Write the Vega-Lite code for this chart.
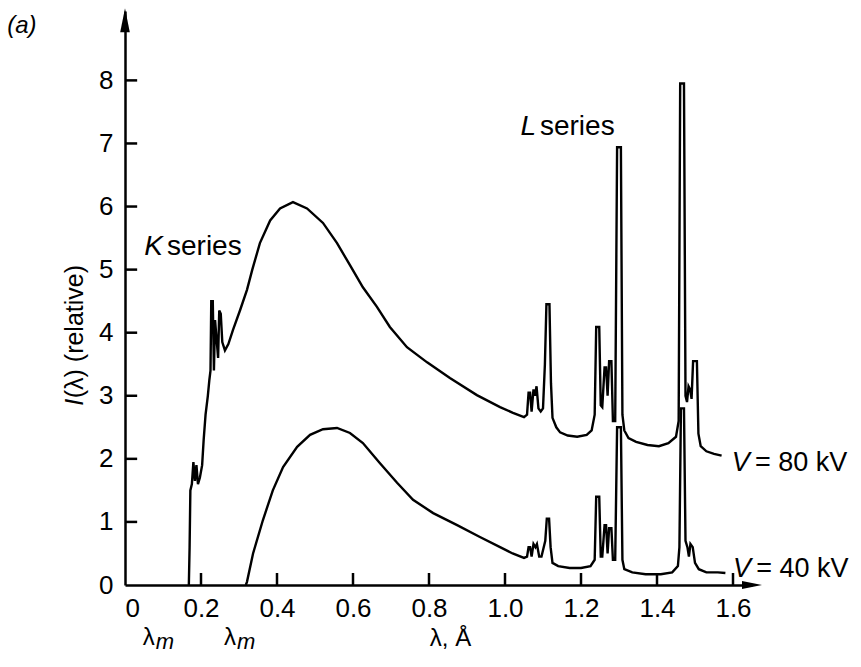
{
  "$schema": "https://vega.github.io/schema/vega-lite/v6.json",
  "width": 627,
  "height": 574,
  "autosize": {"type": "none"},
  "padding": {"left": 125, "top": 11, "right": 109, "bottom": 82},
  "background": "white",
  "config": {"view": {"stroke": null}, "font": "Liberation Sans", "text": {"font": "Liberation Sans", "color": "black"}},
  "datasets": {
    "kv80": [
      {"lam": 0.168, "I": 0}, {"lam": 0.170, "I": 0.6}, {"lam": 0.172, "I": 1.5}, {"lam": 0.176, "I": 1.6},
      {"lam": 0.180, "I": 1.95}, {"lam": 0.184, "I": 1.65}, {"lam": 0.188, "I": 1.9}, {"lam": 0.192, "I": 1.6},
      {"lam": 0.197, "I": 1.7}, {"lam": 0.203, "I": 1.9}, {"lam": 0.207, "I": 2.3}, {"lam": 0.212, "I": 2.7},
      {"lam": 0.218, "I": 3.0}, {"lam": 0.222, "I": 3.25}, {"lam": 0.225, "I": 3.4}, {"lam": 0.227, "I": 4.5},
      {"lam": 0.231, "I": 4.5}, {"lam": 0.234, "I": 3.4}, {"lam": 0.237, "I": 4.2}, {"lam": 0.241, "I": 3.9},
      {"lam": 0.245, "I": 3.6}, {"lam": 0.248, "I": 4.35}, {"lam": 0.252, "I": 4.3}, {"lam": 0.256, "I": 3.85},
      {"lam": 0.263, "I": 3.72}, {"lam": 0.272, "I": 3.82}, {"lam": 0.284, "I": 4.04}, {"lam": 0.303, "I": 4.36},
      {"lam": 0.321, "I": 4.68}, {"lam": 0.335, "I": 5.0}, {"lam": 0.355, "I": 5.42}, {"lam": 0.382, "I": 5.78},
      {"lam": 0.408, "I": 5.97}, {"lam": 0.442, "I": 6.07}, {"lam": 0.479, "I": 5.97}, {"lam": 0.521, "I": 5.74},
      {"lam": 0.558, "I": 5.42}, {"lam": 0.592, "I": 5.07}, {"lam": 0.626, "I": 4.72}, {"lam": 0.663, "I": 4.41},
      {"lam": 0.697, "I": 4.09}, {"lam": 0.742, "I": 3.77}, {"lam": 0.795, "I": 3.53}, {"lam": 0.855, "I": 3.28},
      {"lam": 0.926, "I": 3.01}, {"lam": 0.987, "I": 2.82}, {"lam": 1.021, "I": 2.73}, {"lam": 1.050, "I": 2.66},
      {"lam": 1.058, "I": 2.7}, {"lam": 1.062, "I": 3.05}, {"lam": 1.066, "I": 3.05}, {"lam": 1.070, "I": 2.75},
      {"lam": 1.075, "I": 3.1}, {"lam": 1.079, "I": 3.0}, {"lam": 1.083, "I": 3.15}, {"lam": 1.088, "I": 2.8},
      {"lam": 1.094, "I": 2.75}, {"lam": 1.100, "I": 2.8}, {"lam": 1.105, "I": 3.5}, {"lam": 1.109, "I": 4.45},
      {"lam": 1.117, "I": 4.45}, {"lam": 1.121, "I": 3.2}, {"lam": 1.125, "I": 2.65}, {"lam": 1.135, "I": 2.5},
      {"lam": 1.145, "I": 2.42}, {"lam": 1.165, "I": 2.37}, {"lam": 1.190, "I": 2.35}, {"lam": 1.215, "I": 2.38},
      {"lam": 1.228, "I": 2.45}, {"lam": 1.236, "I": 2.7}, {"lam": 1.240, "I": 4.09}, {"lam": 1.248, "I": 4.09},
      {"lam": 1.252, "I": 2.85}, {"lam": 1.256, "I": 2.82}, {"lam": 1.262, "I": 3.45}, {"lam": 1.266, "I": 3.45},
      {"lam": 1.270, "I": 3.0}, {"lam": 1.274, "I": 3.55}, {"lam": 1.280, "I": 3.55}, {"lam": 1.284, "I": 2.6},
      {"lam": 1.290, "I": 2.6}, {"lam": 1.295, "I": 6.94}, {"lam": 1.305, "I": 6.94}, {"lam": 1.309, "I": 2.7},
      {"lam": 1.314, "I": 2.45}, {"lam": 1.325, "I": 2.33}, {"lam": 1.345, "I": 2.27}, {"lam": 1.375, "I": 2.22},
      {"lam": 1.405, "I": 2.2}, {"lam": 1.430, "I": 2.25}, {"lam": 1.450, "I": 2.35}, {"lam": 1.457, "I": 2.6},
      {"lam": 1.461, "I": 7.95}, {"lam": 1.471, "I": 7.95}, {"lam": 1.475, "I": 3.0}, {"lam": 1.479, "I": 2.9},
      {"lam": 1.483, "I": 3.15}, {"lam": 1.487, "I": 3.1}, {"lam": 1.491, "I": 2.95}, {"lam": 1.495, "I": 3.55},
      {"lam": 1.505, "I": 3.55}, {"lam": 1.509, "I": 2.4}, {"lam": 1.515, "I": 2.2}, {"lam": 1.530, "I": 2.12},
      {"lam": 1.550, "I": 2.08}, {"lam": 1.570, "I": 2.05}
    ],
    "kv40": [
      {"lam": 0.318, "I": 0}, {"lam": 0.321, "I": 0.05}, {"lam": 0.337, "I": 0.5}, {"lam": 0.363, "I": 1.03},
      {"lam": 0.389, "I": 1.5}, {"lam": 0.416, "I": 1.87}, {"lam": 0.453, "I": 2.19}, {"lam": 0.487, "I": 2.38},
      {"lam": 0.521, "I": 2.47}, {"lam": 0.558, "I": 2.49}, {"lam": 0.592, "I": 2.41}, {"lam": 0.626, "I": 2.25},
      {"lam": 0.671, "I": 1.93}, {"lam": 0.716, "I": 1.62}, {"lam": 0.758, "I": 1.35}, {"lam": 0.811, "I": 1.14},
      {"lam": 0.874, "I": 0.95}, {"lam": 0.934, "I": 0.76}, {"lam": 0.987, "I": 0.6}, {"lam": 1.02, "I": 0.5},
      {"lam": 1.05, "I": 0.43}, {"lam": 1.058, "I": 0.45}, {"lam": 1.062, "I": 0.6}, {"lam": 1.066, "I": 0.6},
      {"lam": 1.070, "I": 0.45}, {"lam": 1.075, "I": 0.65}, {"lam": 1.080, "I": 0.6}, {"lam": 1.084, "I": 0.65},
      {"lam": 1.090, "I": 0.45}, {"lam": 1.096, "I": 0.45}, {"lam": 1.100, "I": 0.55}, {"lam": 1.106, "I": 0.7},
      {"lam": 1.110, "I": 1.05}, {"lam": 1.116, "I": 1.05}, {"lam": 1.120, "I": 0.6}, {"lam": 1.125, "I": 0.35},
      {"lam": 1.140, "I": 0.3}, {"lam": 1.170, "I": 0.27}, {"lam": 1.200, "I": 0.27}, {"lam": 1.225, "I": 0.3},
      {"lam": 1.236, "I": 0.4}, {"lam": 1.240, "I": 1.4}, {"lam": 1.248, "I": 1.4}, {"lam": 1.252, "I": 0.45},
      {"lam": 1.256, "I": 0.45}, {"lam": 1.262, "I": 0.95}, {"lam": 1.266, "I": 0.95}, {"lam": 1.270, "I": 0.5},
      {"lam": 1.274, "I": 0.9}, {"lam": 1.280, "I": 0.9}, {"lam": 1.284, "I": 0.4}, {"lam": 1.290, "I": 0.4},
      {"lam": 1.295, "I": 2.5}, {"lam": 1.305, "I": 2.5}, {"lam": 1.309, "I": 0.4}, {"lam": 1.314, "I": 0.25},
      {"lam": 1.335, "I": 0.2}, {"lam": 1.370, "I": 0.17}, {"lam": 1.410, "I": 0.17}, {"lam": 1.440, "I": 0.2},
      {"lam": 1.455, "I": 0.3}, {"lam": 1.459, "I": 0.6}, {"lam": 1.463, "I": 2.8}, {"lam": 1.471, "I": 2.8},
      {"lam": 1.475, "I": 0.7}, {"lam": 1.480, "I": 0.6}, {"lam": 1.484, "I": 0.45}, {"lam": 1.488, "I": 0.65},
      {"lam": 1.494, "I": 0.6}, {"lam": 1.500, "I": 0.35}, {"lam": 1.510, "I": 0.25}, {"lam": 1.530, "I": 0.2},
      {"lam": 1.560, "I": 0.2}, {"lam": 1.580, "I": 0.19}
    ],
    "ticks": [
      {"xa": 0.2, "xb": 0.2, "ya": 0, "yb": 0.19}, {"xa": 0.4, "xb": 0.4, "ya": 0, "yb": 0.19},
      {"xa": 0.6, "xb": 0.6, "ya": 0, "yb": 0.19}, {"xa": 0.8, "xb": 0.8, "ya": 0, "yb": 0.19},
      {"xa": 1.0, "xb": 1.0, "ya": 0, "yb": 0.19}, {"xa": 1.2, "xb": 1.2, "ya": 0, "yb": 0.19},
      {"xa": 1.4, "xb": 1.4, "ya": 0, "yb": 0.19}, {"xa": 1.6, "xb": 1.6, "ya": 0, "yb": 0.19},
      {"xa": 0, "xb": 0.032, "ya": 1, "yb": 1}, {"xa": 0, "xb": 0.032, "ya": 2, "yb": 2},
      {"xa": 0, "xb": 0.032, "ya": 3, "yb": 3}, {"xa": 0, "xb": 0.032, "ya": 4, "yb": 4},
      {"xa": 0, "xb": 0.032, "ya": 5, "yb": 5}, {"xa": 0, "xb": 0.032, "ya": 6, "yb": 6},
      {"xa": 0, "xb": 0.032, "ya": 7, "yb": 7}, {"xa": 0, "xb": 0.032, "ya": 8, "yb": 8}
    ]
  },
  "layer": [
    {
      "data": {"name": "kv80"},
      "mark": {"type": "line", "color": "black", "strokeWidth": 2.4},
      "encoding": {
        "x": {
          "field": "lam", "type": "quantitative",
          "scale": {"domain": [0, 1.65], "nice": false, "zero": false},
          "axis": {
            "values": [0, 0.2, 0.4, 0.6, 0.8, 1.0, 1.2, 1.4, 1.6],
            "labelExpr": "datum.value == 0 ? '0' : format(datum.value, '.1f')",
            "grid": false, "domainColor": "black", "domainWidth": 2.5, "ticks": false,
            "labelFont": "Liberation Sans", "labelFontSize": 26, "labelColor": "black", "labelPadding": 10,
            "title": "λ, Å", "titleFont": "Liberation Sans", "titleFontSize": 24, "titleFontWeight": "normal",
            "titleColor": "black", "titleX": 325, "titleY": 60, "titleBaseline": "alphabetic", "titleAlign": "center"
          }
        },
        "y": {
          "field": "I", "type": "quantitative",
          "scale": {"domain": [0, 9.1], "nice": false},
          "axis": {
            "values": [0, 1, 2, 3, 4, 5, 6, 7, 8], "format": "d",
            "grid": false, "domainColor": "black", "domainWidth": 2.5, "ticks": false,
            "labelFont": "Liberation Sans", "labelFontSize": 26, "labelColor": "black", "labelPadding": 12,
            "title": null
          }
        }
      }
    },
    {
      "data": {"name": "kv40"},
      "mark": {"type": "line", "color": "black", "strokeWidth": 2.4},
      "encoding": {
        "x": {"field": "lam", "type": "quantitative"},
        "y": {"field": "I", "type": "quantitative"}
      }
    },
    {
      "data": {"name": "ticks"},
      "mark": {"type": "rule", "color": "black", "strokeWidth": 2.5},
      "encoding": {
        "x": {"field": "xa", "type": "quantitative"},
        "x2": {"field": "xb"},
        "y": {"field": "ya", "type": "quantitative"},
        "y2": {"field": "yb"}
      }
    },
    {
      "data": {"values": [{}]},
      "mark": {"type": "point", "shape": "M0,-1L0.4,1L-0.4,1Z", "filled": true, "color": "black", "opacity": 1, "size": 576},
      "encoding": {"x": {"datum": 0, "type": "quantitative"}, "y": {"datum": 8.954, "type": "quantitative"}}
    },
    {
      "data": {"values": [{}]},
      "mark": {"type": "point", "shape": "M1,0L-1,-0.4L-1,0.4Z", "filled": true, "color": "black", "opacity": 1, "size": 400},
      "encoding": {"x": {"datum": 1.65, "type": "quantitative"}, "y": {"datum": 0, "type": "quantitative"}}
    },
    {
      "data": {"values": [{"t": "I"}]},
      "mark": {"type": "text", "fontSize": 25, "fontStyle": "italic", "align": "left", "baseline": "middle", "angle": 270},
      "encoding": {"text": {"field": "t"}, "x": {"datum": -0.1316, "type": "quantitative"}, "y": {"datum": 2.84, "type": "quantitative"}}
    },
    {
      "data": {"values": [{"t": "(λ) (relative)"}]},
      "mark": {"type": "text", "fontSize": 25, "align": "left", "baseline": "middle", "angle": 270},
      "encoding": {"text": {"field": "t"}, "x": {"datum": -0.1316, "type": "quantitative"}, "y": {"datum": 2.96, "type": "quantitative"}}
    },
    {
      "data": {"values": [{"t": "(a)"}]},
      "mark": {"type": "text", "fontSize": 24, "fontStyle": "italic", "align": "left", "baseline": "middle"},
      "encoding": {"text": {"field": "t"}, "x": {"datum": -0.31, "type": "quantitative"}, "y": {"datum": 8.86, "type": "quantitative"}}
    },
    {
      "data": {"values": [{"t": "K"}]},
      "mark": {"type": "text", "fontSize": 28, "fontStyle": "italic", "align": "right", "baseline": "alphabetic"},
      "encoding": {"text": {"field": "t"}, "x": {"datum": 0.1, "type": "quantitative"}, "y": {"datum": 5.23, "type": "quantitative"}}
    },
    {
      "data": {"values": [{"t": "series"}]},
      "mark": {"type": "text", "fontSize": 28, "align": "left", "baseline": "alphabetic"},
      "encoding": {"text": {"field": "t"}, "x": {"datum": 0.1105, "type": "quantitative"}, "y": {"datum": 5.23, "type": "quantitative"}}
    },
    {
      "data": {"values": [{"t": "L"}]},
      "mark": {"type": "text", "fontSize": 28, "fontStyle": "italic", "align": "right", "baseline": "alphabetic"},
      "encoding": {"text": {"field": "t"}, "x": {"datum": 1.0816, "type": "quantitative"}, "y": {"datum": 7.13, "type": "quantitative"}}
    },
    {
      "data": {"values": [{"t": "series"}]},
      "mark": {"type": "text", "fontSize": 28, "align": "left", "baseline": "alphabetic"},
      "encoding": {"text": {"field": "t"}, "x": {"datum": 1.092, "type": "quantitative"}, "y": {"datum": 7.13, "type": "quantitative"}}
    },
    {
      "data": {"values": [{"t": "V"}]},
      "mark": {"type": "text", "fontSize": 27, "fontStyle": "italic", "align": "left", "baseline": "alphabetic"},
      "encoding": {"text": {"field": "t"}, "x": {"datum": 1.597, "type": "quantitative"}, "y": {"datum": 1.81, "type": "quantitative"}}
    },
    {
      "data": {"values": [{"t": "= 80 kV"}]},
      "mark": {"type": "text", "fontSize": 27, "align": "left", "baseline": "alphabetic"},
      "encoding": {"text": {"field": "t"}, "x": {"datum": 1.658, "type": "quantitative"}, "y": {"datum": 1.81, "type": "quantitative"}}
    },
    {
      "data": {"values": [{"t": "V"}]},
      "mark": {"type": "text", "fontSize": 27, "fontStyle": "italic", "align": "left", "baseline": "alphabetic"},
      "encoding": {"text": {"field": "t"}, "x": {"datum": 1.6, "type": "quantitative"}, "y": {"datum": 0.13, "type": "quantitative"}}
    },
    {
      "data": {"values": [{"t": "= 40 kV"}]},
      "mark": {"type": "text", "fontSize": 27, "align": "left", "baseline": "alphabetic"},
      "encoding": {"text": {"field": "t"}, "x": {"datum": 1.661, "type": "quantitative"}, "y": {"datum": 0.13, "type": "quantitative"}}
    },
    {
      "data": {"values": [{"t": "λ"}]},
      "mark": {"type": "text", "fontSize": 24, "align": "left", "baseline": "alphabetic"},
      "encoding": {"text": {"field": "t"}, "x": {"datum": 0.047, "type": "quantitative"}, "y": {"datum": -0.95, "type": "quantitative"}}
    },
    {
      "data": {"values": [{"t": "m"}]},
      "mark": {"type": "text", "fontSize": 22, "fontStyle": "italic", "align": "left", "baseline": "alphabetic"},
      "encoding": {"text": {"field": "t"}, "x": {"datum": 0.081, "type": "quantitative"}, "y": {"datum": -1.02, "type": "quantitative"}}
    },
    {
      "data": {"values": [{"t": "λ"}]},
      "mark": {"type": "text", "fontSize": 24, "align": "left", "baseline": "alphabetic"},
      "encoding": {"text": {"field": "t"}, "x": {"datum": 0.2605, "type": "quantitative"}, "y": {"datum": -0.95, "type": "quantitative"}}
    },
    {
      "data": {"values": [{"t": "m"}]},
      "mark": {"type": "text", "fontSize": 22, "fontStyle": "italic", "align": "left", "baseline": "alphabetic"},
      "encoding": {"text": {"field": "t"}, "x": {"datum": 0.295, "type": "quantitative"}, "y": {"datum": -1.02, "type": "quantitative"}}
    }
  ]
}
